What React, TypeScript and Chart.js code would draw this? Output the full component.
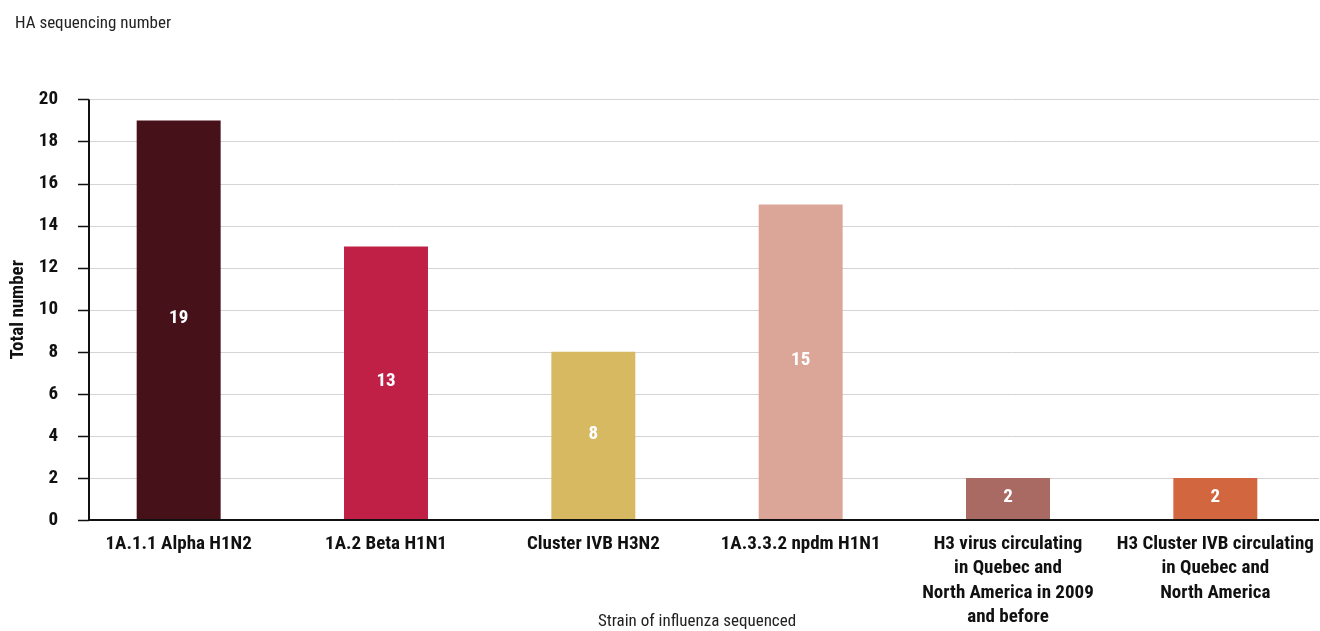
import React, { useEffect, useRef } from "react";
import { Chart, registerables } from "chart.js";

Chart.register(...registerables);

const categories: (string | string[])[] = [
  "1A.1.1 Alpha H1N2",
  "1A.2 Beta H1N1",
  "Cluster IVB H3N2",
  "1A.3.3.2 npdm H1N1",
  ["H3 virus circulating", "in Quebec and", "North America in 2009", "and before"],
  ["H3 Cluster IVB circulating", "in Quebec and", "North America"],
];
const values = [19, 13, 8, 15, 2, 2];
const barColors = ["#47111A", "#C02046", "#D6B961", "#DBA597", "#A86A63", "#D2663F"];
const yTicks = [0, 2, 4, 6, 8, 10, 12, 14, 16, 18, 20];

const FONT = "'Roboto Condensed', 'DejaVu Sans Condensed', sans-serif";

const axisPlugin = {
  id: "axisPlugin",
  afterLayout(chart: any) {
    const tb = chart.titleBlock;
    if (tb) {
      tb.left += 15;
      tb.right += 15;
    }
  },
  beforeDatasetsDraw(chart: any) {
    const { ctx, chartArea, scales } = chart;
    const y = scales.y;
    const axisX = chartArea.left + 14;
    ctx.save();
    ctx.strokeStyle = "#d4d4d4";
    ctx.lineWidth = 1;
    yTicks.forEach((v) => {
      if (v === 0) return;
      const py = Math.round(y.getPixelForValue(v)) + 0.5;
      ctx.beginPath();
      ctx.moveTo(axisX, py);
      ctx.lineTo(chartArea.right, py);
      ctx.stroke();
    });
    ctx.strokeStyle = "#111";
    ctx.lineWidth = 1.5;
    yTicks.forEach((v) => {
      const py = Math.round(y.getPixelForValue(v)) + 0.5;
      ctx.beginPath();
      ctx.moveTo(axisX - 11, py);
      ctx.lineTo(axisX, py);
      ctx.stroke();
    });
    ctx.lineWidth = 2;
    ctx.beginPath();
    ctx.moveTo(axisX, y.getPixelForValue(20));
    ctx.lineTo(axisX, y.getPixelForValue(0) + 1);
    ctx.stroke();
    ctx.restore();
  },
  afterDatasetsDraw(chart: any) {
    const { ctx, chartArea, scales } = chart;
    const y = scales.y;
    const axisX = chartArea.left + 14;
    ctx.save();
    ctx.strokeStyle = "#111";
    ctx.lineWidth = 2;
    const py = Math.round(y.getPixelForValue(0));
    ctx.beginPath();
    ctx.moveTo(axisX - 1, py);
    ctx.lineTo(chartArea.right, py);
    ctx.stroke();
    const meta = chart.getDatasetMeta(0);
    ctx.fillStyle = "#ffffff";
    ctx.font = `bold 19px ${FONT}`;
    ctx.textAlign = "center";
    ctx.textBaseline = "middle";
    meta.data.forEach((el: any, i: number) => {
      const mid = (el.y + el.base) / 2 - 2;
      ctx.fillText(String(values[i]), el.x, mid);
    });
    ctx.restore();
  },
};

export default function App() {
  const ref = useRef<HTMLCanvasElement>(null);
  useEffect(() => {
    document.body.style.margin = "0";
    const chart = new Chart(ref.current!, {
      type: "bar",
      data: {
        labels: categories,
        datasets: [
          {
            data: values,
            backgroundColor: barColors,
            barPercentage: 0.405,
            categoryPercentage: 1,
          },
        ],
      },
      plugins: [axisPlugin],
      options: {
        animation: false,
        responsive: false,
        layout: { padding: { left: 0, right: 1, top: 0, bottom: 0 } },
        plugins: {
          legend: { display: false },
          tooltip: { enabled: false },
          title: {
            display: true,
            text: "HA sequencing number",
            align: "start",
            color: "#222",
            font: { family: FONT, size: 17, weight: "normal" },
            padding: { top: 14, bottom: 65 },
          },
        },
        scales: {
          x: {
            grid: { display: false, drawTicks: false },
            border: { display: false },
            ticks: {
              color: "#111",
              font: { family: FONT, size: 19, weight: "bold", lineHeight: 1.28 },
              padding: 12,
              maxRotation: 0,
              autoSkip: false,
            },
            title: {
              display: true,
              text: "Strain of influenza sequenced",
              color: "#222",
              font: { family: FONT, size: 17, weight: "normal" },
              padding: { top: 0, bottom: -1 },
            },
            afterFit: (s: any) => {
              s.height = 111;
              s.paddingLeft = 0;
              s.paddingRight = 0;
            },
          },
          y: {
            min: 0,
            max: 20,
            grid: { display: false, drawTicks: false },
            border: { display: false },
            ticks: {
              stepSize: 2,
              color: "#111",
              font: { family: FONT, size: 19, weight: "bold" },
              padding: 17,
            },
            title: {
              display: true,
              text: "Total number",
              color: "#111",
              font: { family: FONT, size: 19, weight: "bold" },
              padding: { top: 7, bottom: 0 },
            },
            afterFit: (s: any) => {
              s.width = 75;
            },
          },
        },
      },
    });
    return () => chart.destroy();
  }, []);
  return (
    <div style={{ position: "fixed", left: 0, top: 0, width: 1320, height: 631 }}>
      <canvas ref={ref} width={1320} height={631} />
    </div>
  );
}
